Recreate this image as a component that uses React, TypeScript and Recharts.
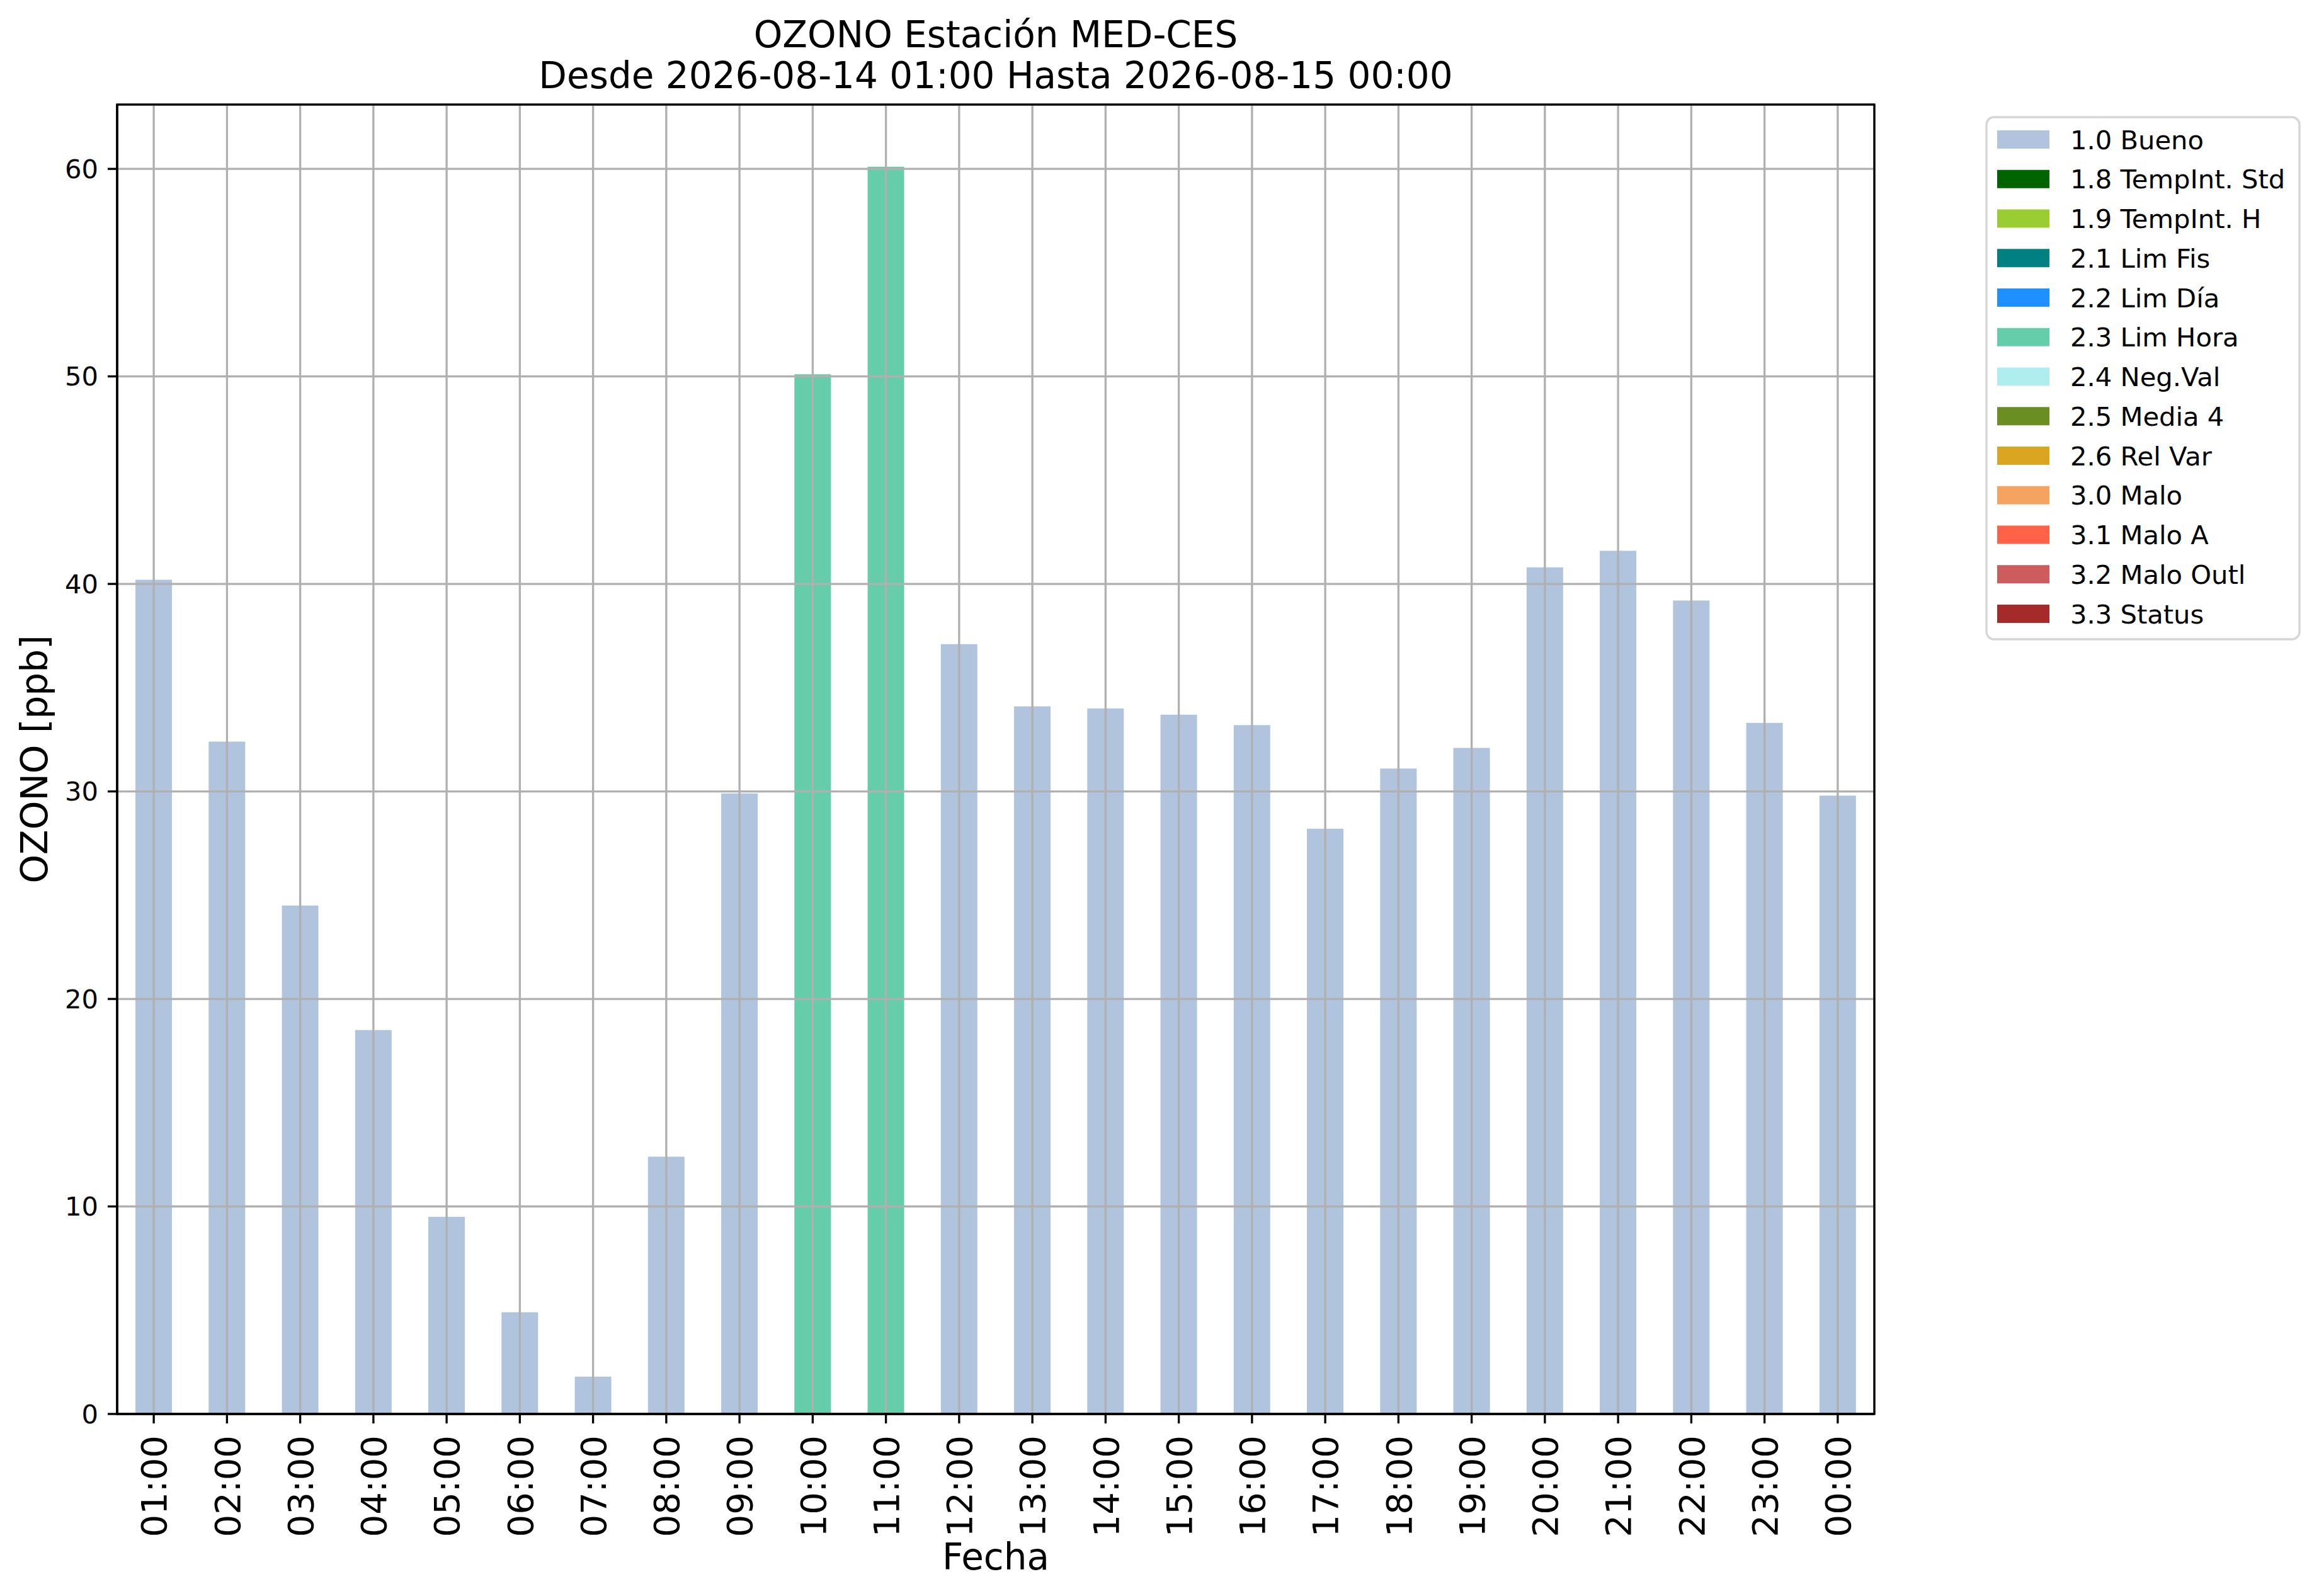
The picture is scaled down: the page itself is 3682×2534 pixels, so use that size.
import React from 'react';
import { BarChart, Bar, XAxis, YAxis, CartesianGrid } from 'recharts';

const hours = ['01:00','02:00','03:00','04:00','05:00','06:00','07:00','08:00','09:00','10:00','11:00','12:00','13:00','14:00','15:00','16:00','17:00','18:00','19:00','20:00','21:00','22:00','23:00','00:00'];
const ozoneValues = [40.2, 32.4, 24.5, 18.5, 9.5, 4.9, 1.8, 12.4, 29.9, 50.1, 60.1, 37.1, 34.1, 34.0, 33.7, 33.2, 28.2, 31.1, 32.1, 40.8, 41.6, 39.2, 33.3, 29.8];
const hourFlags = ['1.0','1.0','1.0','1.0','1.0','1.0','1.0','1.0','1.0','2.3','2.3','1.0','1.0','1.0','1.0','1.0','1.0','1.0','1.0','1.0','1.0','1.0','1.0','1.0'];
const flagCodes = ['1.0','1.8','1.9','2.1','2.2','2.3','2.4','2.5','2.6','3.0','3.1','3.2','3.3'];
const flagNames = ['Bueno','TempInt. Std','TempInt. H','Lim Fis','Lim Día','Lim Hora','Neg.Val','Media 4','Rel Var','Malo','Malo A','Malo Outl','Status'];
const flagColors = ['#B0C4DE','#006400','#9ACD32','#008080','#1E90FF','#66CDAA','#AFEEEE','#6B8E23','#DAA520','#F4A460','#FF6347','#CD5C5C','#A52A2A'];
const yTicks = [0, 10, 20, 30, 40, 50, 60];
const yMax = 63.1;
const titleLines = ['OZONO Estación MED-CES', 'Desde 2026-08-14 01:00 Hasta 2026-08-15 00:00'];
const xLabel = 'Fecha';
const yLabel = 'OZONO [ppb]';

const FONT = 'DejaVu Sans, Liberation Sans, sans-serif';
const LW = 3.33;
const PLOT = { left: 186, top: 166, right: 2976, bottom: 2245 };

const data = hours.map((h, i) => {
  const row: Record<string, any> = { hour: h };
  flagCodes.forEach((c) => {
    row[c] = hourFlags[i] === c ? ozoneValues[i] : null;
  });
  return row;
});

const XTick = (props: any) => {
  const { x, y, payload } = props;
  return (
    <text
      x={x}
      y={y}
      transform={`rotate(-90 ${x} ${y})`}
      textAnchor="end"
      dy="0.36em"
      fontSize={56}
      fontFamily={FONT}
      fill="#000"
    >
      {payload.value}
    </text>
  );
};

const FechaLabel = (props: any) => {
  const vb = props.viewBox || { x: 0, y: 0, width: 0 };
  const cx = vb.x + vb.width / 2;
  return (
    <text x={cx} y={vb.y + 247} textAnchor="middle" fontSize={58} fontFamily={FONT} fill="#000">
      {xLabel}
    </text>
  );
};

const YLabel = (props: any) => {
  const vb = props.viewBox || { x: 0, y: 0, height: 0 };
  const cy = vb.y + vb.height / 2;
  const x = 75;
  return (
    <text x={x} y={cy} transform={`rotate(-90 ${x} ${cy})`} textAnchor="middle" fontSize={58} fontFamily={FONT} fill="#000">
      {yLabel}
    </text>
  );
};

const Title = () => (
  <svg width={3682} height={160} style={{ position: 'absolute', left: 0, top: 0 }}>
    {titleLines.map((t, i) => (
      <text key={i} x={1581} y={75 + i * 65} textAnchor="middle" fontSize={58} fontFamily={FONT} fill="#000">
        {t}
      </text>
    ))}
  </svg>
);

const Frame = () => (
  <svg
    width={PLOT.right - PLOT.left + 10}
    height={PLOT.bottom - PLOT.top + 10}
    style={{ position: 'absolute', left: PLOT.left - 5, top: PLOT.top - 5, pointerEvents: 'none' }}
  >
    <rect
      x={5}
      y={5}
      width={PLOT.right - PLOT.left}
      height={PLOT.bottom - PLOT.top}
      fill="none"
      stroke="#000"
      strokeWidth={LW}
    />
  </svg>
);

const LegendBox = () => {
  const left = 3154;
  const top = 186;
  const w = 497;
  const h = 829;
  const fs = 41.67;
  const pitch = 62.75;
  return (
    <svg
      width={w + 10}
      height={h + 10}
      style={{ position: 'absolute', left: left - 5, top: top - 5 }}
    >
      <rect x={5} y={5} width={w} height={h} rx={12} ry={12} fill="#fff" stroke="#d6d6d6" strokeWidth={LW} />
      {flagCodes.map((c, i) => {
        const cy = 5 + 35.5 + i * pitch;
        return (
          <g key={c}>
            <rect x={5 + 17} y={cy - 14.5} width={83} height={29} fill={flagColors[i]} />
            <text x={5 + 133} y={cy + 0.3645 * fs} fontSize={fs} fontFamily={FONT} fill="#000">
              {`${c} ${flagNames[i]}`}
            </text>
          </g>
        );
      })}
    </svg>
  );
};

export default function App() {
  return (
    <div style={{ position: 'absolute', left: 0, top: 0, width: 3682, height: 2534, background: '#fff' }}>
      <BarChart
        width={3682}
        height={2534}
        data={data}
        margin={{ top: PLOT.top, right: 3682 - PLOT.right, bottom: 0, left: 0 }}
        barCategoryGap="25%"
      >
        {flagCodes.map((c, i) => (
          <Bar key={c} dataKey={c} stackId="s" fill={flagColors[i]} isAnimationActive={false} />
        ))}
        <CartesianGrid stroke="#b0b0b0" strokeWidth={LW} zIndex={500} />
        <XAxis
          dataKey="hour"
          height={2534 - PLOT.bottom}
          interval={0}
          tickSize={15}
          tickMargin={19}
          tick={XTick}
          stroke="#000"
          strokeWidth={LW}
          axisLine={{ stroke: '#000', strokeWidth: LW }}
          tickLine={{ stroke: '#000', strokeWidth: LW }}
          label={FechaLabel}
          zIndex={600}
        />
        <YAxis
          width={PLOT.left}
          type="number"
          domain={[0, yMax]}
          ticks={yTicks}
          interval={0}
          tickSize={15}
          tickMargin={15}
          tick={{ fontSize: 41.67, fill: '#000', fontFamily: FONT }}
          stroke="#000"
          strokeWidth={LW}
          axisLine={{ stroke: '#000', strokeWidth: LW }}
          tickLine={{ stroke: '#000', strokeWidth: LW }}
          label={YLabel}
          zIndex={600}
        />
      </BarChart>
      <Frame />
      <Title />
      <LegendBox />
    </div>
  );
}
